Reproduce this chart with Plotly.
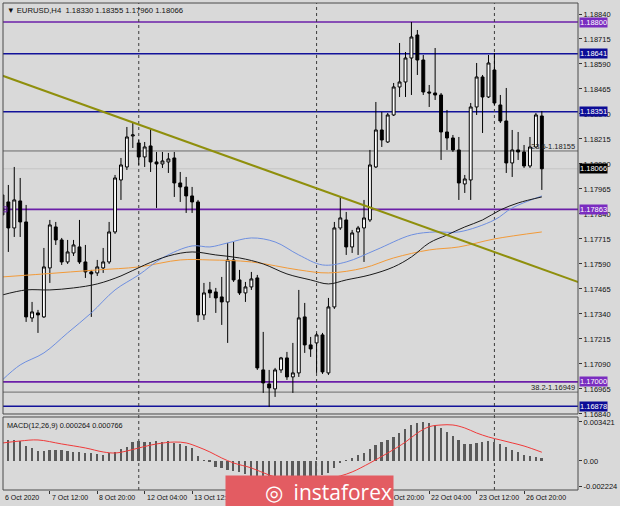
import plotly.graph_objects as go

# ---------------- data ----------------
bar_index = list(range(92))

opens = [1.17935, 1.17900, 1.17770, 1.17905, 1.17800, 1.17320, 1.17345, 1.17325, 1.17570, 1.17775,
         1.17710, 1.17600, 1.17645, 1.17675, 1.17600, 1.17550, 1.17545, 1.17570, 1.17600, 1.17750,
         1.18010, 1.18075, 1.18230, 1.18195, 1.18125, 1.18180, 1.18100, 1.18090, 1.18100, 1.18120,
         1.17995, 1.17975, 1.17930, 1.17900, 1.17335, 1.17460, 1.17450, 1.17425, 1.17400, 1.17610,
         1.17510, 1.17445, 1.17475, 1.17520, 1.17060, 1.16990, 1.16965, 1.17060, 1.17120, 1.17025,
         1.17045, 1.17325, 1.17185, 1.17195, 1.17235, 1.17045, 1.17375, 1.17770, 1.17810, 1.17675,
         1.17750, 1.17770, 1.17810, 1.18075, 1.18260, 1.18200, 1.18335, 1.18475, 1.18500, 1.18620,
         1.18735, 1.18610, 1.18450, 1.18445, 1.18435, 1.18250, 1.18220, 1.18160, 1.17990, 1.18010,
         1.18375, 1.18525, 1.18425, 1.18560, 1.18385, 1.18305, 1.18095, 1.18160, 1.18150, 1.18080,
         1.18175, 1.18330]
highs = [1.18070, 1.17985, 1.18075, 1.18020, 1.17885, 1.17400, 1.17360, 1.17670, 1.17810, 1.17800,
         1.17720, 1.17710, 1.17710, 1.17810, 1.17685, 1.17560, 1.17610, 1.17670, 1.17800, 1.18035,
         1.18120, 1.18275, 1.18300, 1.18210, 1.18200, 1.18265, 1.18150, 1.18150, 1.18145, 1.18150,
         1.18050, 1.18025, 1.17975, 1.17910, 1.17495, 1.17500, 1.17470, 1.17525, 1.17695, 1.17700,
         1.17560, 1.17500, 1.17550, 1.17535, 1.17250, 1.17060, 1.17070, 1.17125, 1.17150, 1.17195,
         1.17460, 1.17395, 1.17225, 1.17245, 1.17245, 1.17420, 1.17800, 1.17925, 1.17850, 1.17760,
         1.17780, 1.17910, 1.18160, 1.18400, 1.18350, 1.18345, 1.18495, 1.18695, 1.18650, 1.18800,
         1.18760, 1.18635, 1.18485, 1.18670, 1.18445, 1.18360, 1.18235, 1.18225, 1.18035, 1.18395,
         1.18595, 1.18535, 1.18635, 1.18645, 1.18435, 1.18470, 1.18260, 1.18250, 1.18185, 1.18225,
         1.18345, 1.18355]
lows = [1.17710, 1.17650, 1.17725, 1.17725, 1.17300, 1.17300, 1.17245, 1.17320, 1.17495, 1.17685,
        1.17585, 1.17590, 1.17630, 1.17590, 1.17520, 1.17325, 1.17530, 1.17545, 1.17590, 1.17740,
        1.17910, 1.18060, 1.18170, 1.18085, 1.18075, 1.18050, 1.17870, 1.18070, 1.18045, 1.17925,
        1.17900, 1.17845, 1.17845, 1.17300, 1.17310, 1.17420, 1.17345, 1.17285, 1.17195, 1.17500,
        1.17435, 1.17400, 1.17460, 1.17060, 1.16945, 1.16875, 1.16925, 1.17045, 1.17010, 1.16945,
        1.17025, 1.17145, 1.17125, 1.17045, 1.17040, 1.17035, 1.17365, 1.17760, 1.17635, 1.17645,
        1.17635, 1.17600, 1.17800, 1.18070, 1.18175, 1.18195, 1.18330, 1.18425, 1.18425, 1.18435,
        1.18535, 1.18435, 1.18375, 1.18410, 1.18110, 1.18160, 1.18150, 1.17910, 1.17945, 1.17910,
        1.18335, 1.18245, 1.18420, 1.18385, 1.18295, 1.18045, 1.18025, 1.18110, 1.18070, 1.18070,
        1.18170, 1.17960]
closes = [1.17835, 1.17770, 1.17910, 1.17800, 1.17325, 1.17350, 1.17335, 1.17575, 1.17785, 1.17710,
          1.17600, 1.17650, 1.17685, 1.17600, 1.17550, 1.17540, 1.17575, 1.17600, 1.17750, 1.18020,
          1.18085, 1.18225, 1.18235, 1.18125, 1.18175, 1.18100, 1.18090, 1.18105, 1.18115, 1.17995,
          1.17975, 1.17930, 1.17900, 1.17335, 1.17445, 1.17445, 1.17420, 1.17400, 1.17610, 1.17510,
          1.17445, 1.17475, 1.17515, 1.17070, 1.16995, 1.16970, 1.17060, 1.17120, 1.17025, 1.17045,
          1.17320, 1.17185, 1.17165, 1.17235, 1.17050, 1.17375, 1.17770, 1.17820, 1.17675, 1.17745,
          1.17770, 1.17820, 1.18085, 1.18260, 1.18210, 1.18335, 1.18475, 1.18500, 1.18620, 1.18725,
          1.18610, 1.18450, 1.18445, 1.18435, 1.18250, 1.18220, 1.18160, 1.17995, 1.18015, 1.18375,
          1.18525, 1.18425, 1.18595, 1.18395, 1.18305, 1.18095, 1.18160, 1.18150, 1.18080, 1.18175,
          1.18335, 1.18066]

# moving averages read at selected bars
ma_black_x = [0, 4, 8, 12, 16, 20, 24, 28, 32, 36, 40, 44, 48, 52, 55, 58, 62, 66, 69, 72, 75, 78, 81, 84, 87, 91]
ma_black_y = [1.17435, 1.17460, 1.17460, 1.17470, 1.17490, 1.17530, 1.17585, 1.17630, 1.17650, 1.17635,
              1.17620, 1.17590, 1.17540, 1.17510, 1.17490, 1.17510, 1.17535, 1.17575, 1.17625, 1.17695,
              1.17735, 1.17775, 1.17810, 1.17860, 1.17895, 1.17925]
ma_blue_x = [0, 3, 7, 11, 15, 19, 23, 27, 32, 35, 38, 42, 46, 50, 54, 58, 63, 69, 73, 77, 83, 86, 91]
ma_blue_y = [1.17010, 1.17085, 1.17145, 1.17245, 1.17345, 1.17460, 1.17535, 1.17620, 1.17680, 1.17675,
             1.17695, 1.17720, 1.17700, 1.17635, 1.17585, 1.17600, 1.17660, 1.17735, 1.17750, 1.17750,
             1.17810, 1.17870, 1.17930]
ma_orange_x = [0, 7, 16, 23, 30, 35, 42, 50, 55, 61, 66, 72, 77, 83, 91]
ma_orange_y = [1.17525, 1.17540, 1.17560, 1.17575, 1.17610, 1.17610, 1.17600, 1.17560, 1.17545, 1.17570,
               1.17620, 1.17660, 1.17675, 1.17715, 1.17750]

trend_x = [-1, 98]
trend_y = [1.18542, 1.17490]

purple_levels = [1.18800, 1.17863, 1.17000]
blue_levels = [1.18641, 1.18351, 1.16878]
fib_levels = [1.18155, 1.16949]
fib_labels = ["23.6-1.18155", "38.2-1.16949"]
current_price = 1.18066

price_ticks = [1.16840, 1.16965, 1.17090, 1.17215, 1.17340, 1.17465, 1.17590, 1.17715, 1.17840,
               1.17965, 1.18090, 1.18215, 1.18340, 1.18465, 1.18590, 1.18715, 1.18840]
price_tick_text = ["%.5f" % v for v in price_ticks]

macd_hist = [0.00184, 0.00186, 0.00186, 0.00175, 0.00131, 0.00114, 0.00088, 0.00088, 0.00096, 0.00096,
             0.00096, 0.00088, 0.00079, 0.00079, 0.00070, 0.00070, 0.00061, 0.00053, 0.00070, 0.00079,
             0.00105, 0.00122, 0.00166, 0.00175, 0.00166, 0.00166, 0.00175, 0.00166, 0.00175, 0.00157,
             0.00149, 0.00131, 0.00114, 0.00044, 0.00003, -0.00001, -0.00053, -0.00061, -0.00079, -0.00088,
             -0.00096, -0.00114, -0.00131, -0.00158, -0.00193, -0.00215, -0.00222, -0.00219, -0.00210, -0.00193,
             -0.00166, -0.00150, -0.00140, -0.00131, -0.00123, -0.00105, -0.00061, -0.00018, 0.00001, 0.00026,
             0.00053, 0.00070, 0.00105, 0.00140, 0.00166, 0.00184, 0.00210, 0.00245, 0.00280, 0.00315,
             0.00333, 0.00342, 0.00333, 0.00315, 0.00289, 0.00254, 0.00219, 0.00184, 0.00149, 0.00149,
             0.00158, 0.00166, 0.00175, 0.00166, 0.00149, 0.00122, 0.00096, 0.00079, 0.00053, 0.00044,
             0.00035, 0.000264]
signal_x = [0, 3, 6, 10, 14, 17, 19, 21, 23, 26, 29, 31, 33, 35, 37, 39, 42, 45, 48, 51, 54, 57, 59, 62,
            65, 68, 70, 72, 74, 76, 78, 80, 82, 84, 86, 88, 91]
signal_y = [0.001575, 0.00175, 0.00184, 0.00149, 0.00114, 0.00079, 0.00070, 0.000875, 0.00114, 0.00149,
            0.00166, 0.00158, 0.00123, 0.00079, 0.00026, -0.000175, -0.00061, -0.00123, -0.00166, -0.00184,
            -0.00166, -0.00131, -0.00096, -0.000175, 0.00070, 0.00166, 0.00245, 0.00300, 0.00315, 0.00315,
            0.00289, 0.00245, 0.00210, 0.00184, 0.00158, 0.00131, 0.000766]
macd_ticks = [0.003421, 0.0, -0.002224]
macd_tick_text = ["0.003421", "0.00", "-0.002224"]

time_tick_x = [0, 8, 16, 24, 32, 40, 48, 56, 64, 72, 80, 88]
time_tick_text = ["6 Oct 2020", "7 Oct 12:00", "8 Oct 20:00", "12 Oct 04:00", "13 Oct 12:00",
                  "14 Oct 20:00", "16 Oct 04:00", "19 Oct 12:00", "20 Oct 20:00", "22 Oct 04:00",
                  "23 Oct 12:00", "26 Oct 20:00"]
week_separators = [23, 53, 83]

header_text = "\u25BC EURUSD,H4  1.18330 1.18355 1.17960 1.18066"
macd_text = "MACD(12,26,9) 0.000264 0.000766"

# ---------------- styles ----------------
BG = "#d9d9d9"
FONT = "Liberation Sans"
PURPLE = "#6b1fa8"
PURPLE_BOX = "#7a2cc0"
BLUE = "#12129a"
BLUE_BOX = "#0c0c96"
X_MIN, X_MAX = 0.1, 97.1

fig = go.Figure()

fig.add_trace(go.Candlestick(
    x=bar_index, open=opens, high=highs, low=lows, close=closes,
    increasing=dict(line=dict(color="#000000", width=1), fillcolor="#ffffff"),
    decreasing=dict(line=dict(color="#000000", width=1), fillcolor="#000000"),
    whiskerwidth=0, xaxis="x", yaxis="y", showlegend=False, hoverinfo="skip"))

fig.add_trace(go.Scatter(x=ma_orange_x, y=ma_orange_y, mode="lines",
                         line=dict(color="#f29a38", width=1, shape="spline"), xaxis="x", yaxis="y"))
fig.add_trace(go.Scatter(x=ma_blue_x, y=ma_blue_y, mode="lines",
                         line=dict(color="#6e8fe0", width=1, shape="spline"), xaxis="x", yaxis="y"))
fig.add_trace(go.Scatter(x=ma_black_x, y=ma_black_y, mode="lines",
                         line=dict(color="#1a1a1a", width=1, shape="spline"), xaxis="x", yaxis="y"))
fig.add_trace(go.Scatter(x=trend_x, y=trend_y, mode="lines",
                         line=dict(color="#8f8f0c", width=2), xaxis="x", yaxis="y"))
fig.add_trace(go.Scatter(x=[0.35], y=[purple_levels[1]], mode="markers",
                         marker=dict(symbol="square-open", size=5, color=PURPLE, line=dict(width=1)),
                         xaxis="x", yaxis="y"))

fig.add_trace(go.Bar(x=bar_index, y=macd_hist, width=0.3, marker=dict(color="#5a5a5a", line=dict(width=0)),
                     xaxis="x2", yaxis="y2"))
fig.add_trace(go.Scatter(x=signal_x, y=signal_y, mode="lines",
                         line=dict(color="#f03a3a", width=1, shape="spline"), xaxis="x2", yaxis="y2"))

shapes = []
for v in purple_levels:
    shapes.append(dict(type="line", xref="x domain", yref="y", x0=0, x1=1, y0=v, y1=v,
                       line=dict(color=PURPLE, width=1.6), layer="below"))
for v in blue_levels:
    shapes.append(dict(type="line", xref="x domain", yref="y", x0=0, x1=1, y0=v, y1=v,
                       line=dict(color=BLUE, width=1.6), layer="below"))
for v in fib_levels:
    shapes.append(dict(type="line", xref="x domain", yref="y", x0=0, x1=1, y0=v, y1=v,
                       line=dict(color="#6a6a6a", width=1), layer="below"))
shapes.append(dict(type="line", xref="x domain", yref="y", x0=0, x1=1, y0=current_price, y1=current_price,
                   line=dict(color="#c4c4c4", width=1), layer="below"))
for s in week_separators:
    shapes.append(dict(type="line", xref="x", yref="paper", x0=s, x1=s, y0=0, y1=1,
                       line=dict(color="#3c3c3c", width=1, dash="dot"), layer="below"))
# panel frames
MAIN_BOTTOM = 0.15606
MACD_TOP = 0.14990
shapes.append(dict(type="rect", xref="paper", yref="paper", x0=0, x1=1, y0=MAIN_BOTTOM, y1=1,
                   line=dict(color="#4a4a4a", width=1)))
shapes.append(dict(type="rect", xref="paper", yref="paper", x0=0, x1=1, y0=0, y1=MACD_TOP,
                   line=dict(color="#4a4a4a", width=1)))

annotations = []
annotations.append(dict(xref="paper", yref="paper", x=0.004, y=0.9975, xanchor="left", yanchor="top",
                        text=header_text, showarrow=False, font=dict(family=FONT, size=7.7, color="#111")))
annotations.append(dict(xref="paper", yref="paper", x=0.004, y=MACD_TOP - 0.004, xanchor="left", yanchor="top",
                        text=macd_text, showarrow=False, font=dict(family=FONT, size=7.3, color="#111")))
for v, t in zip(fib_levels, fib_labels):
    annotations.append(dict(xref="paper", yref="y", x=0.998, y=v, xanchor="right", yanchor="bottom",
                            text=t, showarrow=False, font=dict(family=FONT, size=7.5, color="#222"),
                            yshift=-2))
for v in purple_levels:
    annotations.append(dict(xref="paper", yref="y", x=1, y=v, xanchor="left", yanchor="middle", xshift=1,
                            text="%.5f" % v, showarrow=False, bgcolor=PURPLE_BOX, borderpad=0,
                            font=dict(family=FONT, size=7.5, color="#ffffff")))
for v in blue_levels:
    annotations.append(dict(xref="paper", yref="y", x=1, y=v, xanchor="left", yanchor="middle", xshift=1,
                            text="%.5f" % v, showarrow=False, bgcolor=BLUE_BOX, borderpad=0,
                            font=dict(family=FONT, size=7.5, color="#ffffff")))
annotations.append(dict(xref="paper", yref="y", x=1, y=current_price, xanchor="left", yanchor="middle", xshift=1,
                        text="%.5f" % current_price, showarrow=False, bgcolor="#000000", borderpad=0,
                        font=dict(family=FONT, size=7.5, color="#ffffff")))
for xv, t in zip(time_tick_x, time_tick_text):
    annotations.append(dict(xref="x2", yref="paper", x=max(xv, X_MIN + 0.05), y=-0.005,
                            xanchor="left", yanchor="top", text=t, showarrow=False, xshift=0,
                            font=dict(family=FONT, size=7, color="#111")))
# watermark logo
annotations.append(dict(xref="paper", yref="paper", x=0.3866, y=-0.0041, xanchor="left", yanchor="middle",
                        text="\u25CE  instaforex", showarrow=False, bgcolor="#e35c62", width=165, height=30,
                        align="right", font=dict(family="Open Sans", size=21, color="#ffffff")))

fig.update_layout(
    width=620, height=506,
    margin=dict(l=3, r=35, t=3, b=16),
    paper_bgcolor=BG, plot_bgcolor=BG,
    showlegend=False,
    shapes=shapes, annotations=annotations,
    xaxis=dict(domain=[0, 1], anchor="y", range=[X_MIN, X_MAX], showticklabels=False, showgrid=False,
               zeroline=False, rangeslider=dict(visible=False), ticks=""),
    xaxis2=dict(domain=[0, 1], anchor="y2", matches="x", range=[X_MIN, X_MAX], showgrid=False, zeroline=False,
                tickvals=time_tick_x, showticklabels=False, ticks="outside", ticklen=3,
                tickcolor="#333", showline=False),
    yaxis=dict(domain=[MAIN_BOTTOM, 1], range=[1.168395, 1.18895], side="right", tickvals=price_ticks,
               ticktext=price_tick_text, showgrid=False, zeroline=False, ticks="outside", ticklen=3,
               tickcolor="#333", tickfont=dict(family=FONT, size=7.5, color="#111")),
    yaxis2=dict(domain=[0, MACD_TOP], range=[-0.00254, 0.00385], side="right", tickvals=macd_ticks,
                ticktext=macd_tick_text, showgrid=False, zeroline=False, ticks="outside", ticklen=3,
                tickcolor="#333", tickfont=dict(family=FONT, size=7.5, color="#111")),
    bargap=0,
)

fig.write_html("out.html", config={"displayModeBar": False},
               post_script="document.body.style.margin='0';document.body.style.overflow='hidden';")
